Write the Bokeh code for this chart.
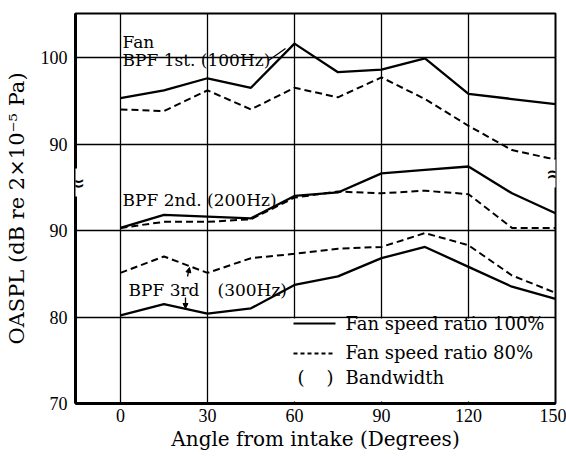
from bokeh.plotting import figure
from bokeh.models import FixedTicker, Label, Arrow, NormalHead, Range1d, ColumnDataSource
from bokeh.embed import file_html
from bokeh.resources import INLINE

# ---------------- data ----------------
angles = [0, 15, 30, 45, 60, 75, 90, 105, 120, 135, 150]
# BPF 1st (100 Hz) -- upper panel (real dB values)
bpf1_100 = [95.3, 96.2, 97.6, 96.5, 101.6, 98.3, 98.6, 99.9, 95.8, 95.2, 94.6]
bpf1_80 = [94.0, 93.8, 96.2, 94.0, 96.5, 95.4, 97.7, 95.2, 92.1, 89.3, 88.2]
# BPF 2nd (200 Hz) -- lower panel
bpf2_100 = [90.3, 91.8, 91.6, 91.4, 94.0, 94.4, 96.6, 97.0, 97.4, 94.3, 92.0]
bpf2_80 = [90.3, 91.0, 91.0, 91.3, 93.8, 94.5, 94.3, 94.6, 94.2, 90.3, 90.3]
# BPF 3rd (300 Hz) -- lower panel
bpf3_100 = [80.2, 81.5, 80.4, 81.0, 83.7, 84.7, 86.8, 88.1, 85.8, 83.5, 82.1]
bpf3_80 = [85.1, 87.0, 85.1, 86.8, 87.3, 87.9, 88.1, 89.7, 88.3, 84.8, 82.8]

BREAK_OFFSET = 10  # upper panel (BPF 1st) is drawn shifted up by 10 dB
x_ticks = [0, 30, 60, 90, 120, 150]
y_ticks = [70, 80, 90, 100, 110]
y_tick_labels = ["70", "80", "90", "90", "100"]

# ---------------- layout helpers ----------------
W, H = 566, 456
FL, FR, FT, FB = 75, 555, 13, 403
X0, X1 = -15.5, 150
Y0, Y1 = 70, 70 + (FB - FT) * 10 / 86.5


def px2x(px):
    return X0 + (px - FL) * (X1 - X0) / (FR - FL)


def px2y(py):
    return Y0 + (FB - py) * (Y1 - Y0) / (FB - FT)


SERIF = "DejaVu Serif"
TICKFONT = "Liberation Serif"

p = figure(width=W, height=H, x_range=Range1d(X0, X1), y_range=Range1d(Y0, Y1),
           output_backend="svg", toolbar_location=None,
           min_border_left=FL, min_border_right=W - FR,
           min_border_top=FT, min_border_bottom=H - FB)

p.background_fill_color = "white"
p.border_fill_color = "white"
p.outline_line_color = "black"
p.outline_line_width = 2

# axes
p.xaxis.ticker = FixedTicker(ticks=x_ticks)
p.yaxis.ticker = FixedTicker(ticks=y_ticks)
p.yaxis.major_label_overrides = {t: l for t, l in zip(y_ticks, y_tick_labels)}
for ax in (p.xaxis[0], p.yaxis[0]):
    ax.axis_line_width = 3
    ax.axis_line_color = "black"
    ax.major_tick_line_color = None
    ax.minor_tick_line_color = None
    ax.major_tick_out = 0
    ax.major_tick_in = 0
    ax.minor_tick_out = 0
    ax.minor_tick_in = 0
    ax.major_label_text_font = TICKFONT
    ax.major_label_text_font_size = "18px"
    ax.major_label_text_color = "black"
    ax.axis_label_text_font = SERIF
    ax.axis_label_text_font_style = "normal"
    ax.axis_label_text_color = "black"
p.xaxis.axis_label = "Angle from intake (Degrees)"
p.yaxis.axis_label = "OASPL (dB re 2×10⁻⁵ Pa)"
p.xaxis.axis_label_text_font_size = "20px"
p.yaxis.axis_label_text_font_size = "21px"
p.xaxis.major_label_standoff = 5
p.xaxis.axis_label_standoff = 2
p.yaxis.major_label_standoff = 8
p.yaxis.axis_label_standoff = 9

# grid
p.xgrid.ticker = FixedTicker(ticks=[0, 30, 60, 90, 120])
p.ygrid.ticker = FixedTicker(ticks=[80, 90, 100, 110])
for g in (p.xgrid[0], p.ygrid[0]):
    g.grid_line_color = "black"
    g.grid_line_width = 1.3
    g.grid_line_alpha = 1.0

# curves
up100 = [v + BREAK_OFFSET for v in bpf1_100]
up80 = [v + BREAK_OFFSET for v in bpf1_80]
src = ColumnDataSource(dict(x=angles, a=up100, b=up80, c=bpf2_100, d=bpf2_80,
                            e=bpf3_100, f=bpf3_80))
for col in ("a", "c", "e"):
    p.line("x", col, source=src, line_color="black", line_width=2.3)
for col in ("b", "d", "f"):
    p.line("x", col, source=src, line_color="black", line_width=2.0, line_dash="7 4")

# legend box (white area below the 80 gridline)
p.quad(left=[px2x(290)], right=[px2x(553)], bottom=[px2y(401)], top=[px2y(318)],
       fill_color="white", line_color=None)
p.line([px2x(293), px2x(335)], [px2y(323)] * 2, line_color="black", line_width=2)
p.line([px2x(293), px2x(335)], [px2y(353)] * 2, line_color="black", line_width=2,
       line_dash="4 3")


def lab(text, px, py, size="18px", align="left", baseline="middle", font=SERIF, **kw):
    lb = Label(x=px2x(px), y=px2y(py), text=text, text_font=font,
               text_font_size=size, text_align=align, text_baseline=baseline,
               text_color="black", **kw)
    p.add_layout(lb)
    return lb


lab("Fan speed ratio 100%", 345, 323)
lab("Fan speed ratio 80%", 345, 352)
lab("(", 297, 377)
lab(")", 326, 377)
lab("Bandwidth", 345, 377)

# curve annotations
lab("Fan", 122, 41, size="17px")
lab("BPF 1st. (100Hz)", 122, 59, size="17px")
lab("BPF 2nd. (200Hz)", 122, 199, size="17px")
lab("BPF 3rd", 128, 289, size="17px")
lab("(300Hz)", 217, 289, size="17px")

p.line([px2x(268), px2x(285)], [px2y(60), px2y(48)], line_color="black", line_width=1.3)
p.add_layout(Arrow(end=NormalHead(size=5, fill_color="black", line_color="black"),
                   x_start=px2x(187), y_start=px2y(276), x_end=px2x(189), y_end=px2y(267),
                   line_width=1.3))
p.add_layout(Arrow(end=NormalHead(size=5, fill_color="black", line_color="black"),
                   x_start=px2x(185), y_start=px2y(297), x_end=px2x(185), y_end=px2y(308),
                   line_width=1.3))

# axis break symbols
lab("≈", FL, 182, size="24px", align="center", font="DejaVu Sans",
    background_fill_color="white")
lab("≈", FR, 173, size="24px", align="center", font="DejaVu Sans",
    background_fill_color="white")

open("out.html", "w").write(file_html(p, INLINE))
